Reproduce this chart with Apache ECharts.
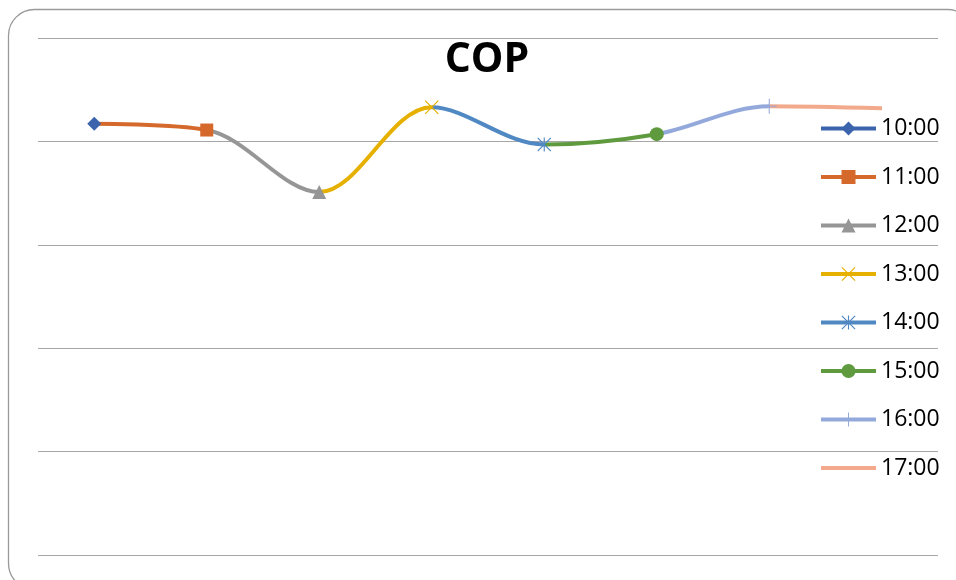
<!DOCTYPE html>
<html>
<head>
<meta charset="utf-8">
<script src="https://cdn.jsdelivr.net/npm/echarts@6/dist/echarts.min.js"></script>
<style>
  html, body { margin: 0; padding: 0; background: #fff; }
  #chart { width: 956px; height: 580px; }
</style>
</head>
<body>
<div id="chart"></div>
<script>
// Hourly COP readings
const hours = ['10:00', '11:00', '12:00', '13:00', '14:00', '15:00', '16:00', '17:00'];
const cop = [4.17, 4.11, 3.51, 4.33, 3.97, 4.07, 4.34, 4.32];
const yTicks = [0, 1, 2, 3, 4, 5];

// Colour and marker for each hour
const colors = ['#3B64AD', '#D4692B', '#969696', '#E6B000', '#4F88C2', '#5F9A3F', '#93A9DB', '#F2A98C'];
const pathX = 'path://M0,1.2L1.2,0L20,18.8L18.8,20Z M18.8,0L20,1.2L1.2,20L0,18.8Z';
const pathStar = 'path://M0,1.2L1.2,0L20,18.8L18.8,20Z M18.8,0L20,1.2L1.2,20L0,18.8Z M9.2,0H10.8V20H9.2Z';
const pathPlus = 'path://M9.3,0H10.7V9.3H20V10.7H10.7V20H9.3V10.7H0V9.3H9.3Z';
const symbols = ['diamond', 'rect', 'triangle', pathX, pathStar, 'circle', pathPlus, 'circle'];
const symbolSizes = [14, 13, 14, 14, 14, 14, 15, 1];

const chart = echarts.init(document.getElementById('chart'), null, { renderer: 'canvas' });

// One marker series per hour (also feeds the legend); the last hour has no marker
const markerSeries = hours.map((h, k) => ({
  name: h,
  type: 'line',
  data: cop.map((v, i) => (i === k ? v : '-')),
  symbol: symbols[k],
  symbolSize: symbolSizes[k],
  showSymbol: true,
  itemStyle: { color: colors[k], borderWidth: 0, opacity: k === hours.length - 1 ? 0 : 1 },
  lineStyle: { color: colors[k], width: 4 },
  z: 4,
  silent: true,
  animation: false
}));

// The smoothed curve through all hours; each span takes the colour of the hour it ends on
const curveSeries = {
  name: 'COP',
  type: 'line',
  data: cop,
  smooth: 0.34,
  symbol: 'none',
  lineStyle: { width: 4, cap: 'round' },
  z: 2,
  silent: true,
  animation: false
};

const pieces = [];
for (let k = 1; k < hours.length; k++) {
  pieces.push(k === 1 ? { gte: 0, lte: 1, color: colors[1] } : { gt: k - 1, lte: k, color: colors[k] });
}

chart.setOption({
  animation: false,
  backgroundColor: '#fff',
  graphic: [{
    type: 'rect',
    shape: { x: 8.5, y: 9.5, width: 965, height: 580, r: 26 },
    style: { fill: 'none', stroke: '#9a9a9a', lineWidth: 1.3 },
    silent: true,
    z: -1
  }],
  title: {
    text: 'COP',
    left: 482,
    textAlign: 'center',
    top: 35,
    textStyle: { fontFamily: 'Open Sans', fontWeight: 'bold', fontSize: 41, color: '#000' }
  },
  legend: {
    data: hours,
    orient: 'vertical',
    left: 814,
    top: 112,
    itemWidth: 55,
    itemHeight: 17.5,
    itemGap: 25.5,
    lineStyle: { width: 4 },
    textStyle: { fontFamily: 'Open Sans', fontSize: 23, color: '#000' },
    selectedMode: false
  },
  grid: { left: 38, right: 18, top: 38, bottom: 25, containLabel: false },
  xAxis: {
    type: 'category',
    data: hours,
    boundaryGap: true,
    axisLine: { show: false },
    axisTick: { show: false },
    axisLabel: { show: false },
    splitLine: { show: false }
  },
  yAxis: {
    type: 'value',
    min: yTicks[0],
    max: yTicks[yTicks.length - 1],
    interval: 1,
    axisLine: { show: false },
    axisTick: { show: false },
    axisLabel: { show: false },
    splitLine: { show: true, lineStyle: { color: '#a6a6a6', width: 1.2 } }
  },
  visualMap: {
    type: 'piecewise',
    show: false,
    dimension: 0,
    seriesIndex: hours.length,
    pieces: pieces
  },
  series: [...markerSeries, curveSeries]
});
</script>
</body>
</html>
